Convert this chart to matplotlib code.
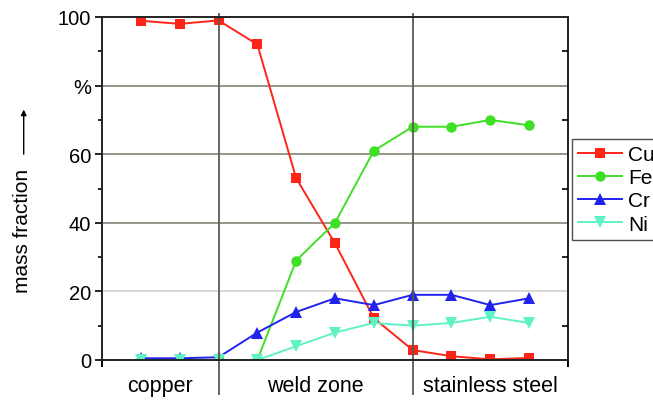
import matplotlib
matplotlib.use("Agg")
import matplotlib.pyplot as plt
from matplotlib.lines import Line2D

plt.rcParams['font.family'] = ['Liberation Sans', 'DejaVu Sans']

# Measurement positions along the line scan
positions = [1, 2, 3, 4, 5, 6, 7, 8, 9, 10, 11]

cu = [98.9, 98.0, 99.0, 92.0, 53.0, 34.0, 12.2, 2.9, 1.1, 0.2, 0.6]
fe = [0.0, 0.0, 0.0, 0.0, 29.0, 40.0, 61.0, 68.0, 68.0, 70.0, 68.4]
cr = [0.5, 0.5, 0.8, 8.0, 14.0, 18.0, 16.0, 19.0, 19.0, 16.0, 18.0]
ni = [0.0, 0.0, 0.0, 0.0, 4.0, 8.0, 10.8, 10.0, 10.8, 12.6, 10.8]

zone_names = ["copper", "weld zone", "stainless steel"]
zone_bounds = [3, 8]
y_tick_values = [0, 20, 40, 60, 80, 100]
y_tick_labels = ["0", "20", "40", "60", "%", "100"]

fig = plt.figure(figsize=(6.53, 4.02), dpi=100)
ax = fig.add_axes([102 / 653, 1 - 361 / 402, (568 - 102) / 653, (361 - 18) / 402])

ax.set_xlim(0, 12)
ax.set_ylim(0, 100)

# horizontal grid
for yv, col in [(20, "#d6d6d6"), (40, "#8f8d82"), (60, "#8f8d82"), (80, "#8f8d82")]:
    ax.axhline(yv, color=col, lw=1.3, zorder=1)

series = [
    ("Cu", cu, "#ff2418", "s", 6.5),
    ("Fe", fe, "#3fdf26", "o", 7.5),
    ("Cr", cr, "#2222ee", "^", 8),
    ("Ni", ni, "#5ef2c4", "v", 8),
]
handles = []
for name, vals, col, mk, ms in series:
    h, = ax.plot(positions, vals, color=col, lw=1.4, marker=mk, ms=ms,
                 markeredgewidth=0, label=name, zorder=3)
    handles.append(h)

# zone separators extending above and below the frame
trans = ax.get_xaxis_transform()
for xb in zone_bounds:
    ax.add_line(Line2D([xb, xb], [-0.10, 1.01], transform=trans,
                       color="#5a594e", lw=1.3, clip_on=False, zorder=4))

# zone names below the axis
edges = [0] + zone_bounds + [12]
for i, name in enumerate(zone_names):
    xc = (edges[i] + edges[i + 1]) / 2
    ax.text(xc, -0.075, name, transform=trans, ha="center", va="center", fontsize=15.5)

for sp in ax.spines.values():
    sp.set_linewidth(1.4)
    sp.set_color("#222222")
    sp.set_zorder(5)

ax.set_yticks(y_tick_values)
ax.set_yticklabels(y_tick_labels, fontsize=14.5)
ax.set_yticks([10, 30, 50, 70, 90], minor=True)
ax.tick_params(axis="y", which="major", direction="out", length=5, width=1.2, pad=3)
ax.tick_params(axis="y", which="minor", direction="out", length=3, width=1.2)

# inward minor ticks on the right frame
ax2 = ax.twinx()
ax2.set_ylim(0, 100)
ax2.set_yticks([])
ax2.set_yticks([10, 30, 50, 70, 90], minor=True)
ax2.tick_params(axis="y", which="minor", direction="in", length=4, width=1.2, labelright=False)
for sp in ax2.spines.values():
    sp.set_visible(False)

ax.set_xticks([0, 12])
ax.set_xticklabels([])
ax.tick_params(axis="x", direction="out", length=5, width=1.4)

# axis title with upward arrow
ax.text(-0.17, 0.38, "mass fraction", transform=ax.transAxes, rotation=90,
        ha="center", va="center", fontsize=15)
ax.annotate("", xy=(-0.168, 0.73), xytext=(-0.168, 0.60), xycoords="axes fraction",
            arrowprops=dict(arrowstyle="-|>", lw=1.0, color="black",
                            mutation_scale=8, shrinkA=0, shrinkB=0))

leg = ax.legend(handles=handles, loc="upper left", bbox_to_anchor=(1.008, 0.645),
                frameon=True, fancybox=False, edgecolor="#222222", fontsize=15,
                handlelength=2.1, handletextpad=0.3, borderpad=0.3,
                labelspacing=0.2, borderaxespad=0)
leg.get_frame().set_linewidth(1.0)

fig.savefig("out.png", dpi=100)
